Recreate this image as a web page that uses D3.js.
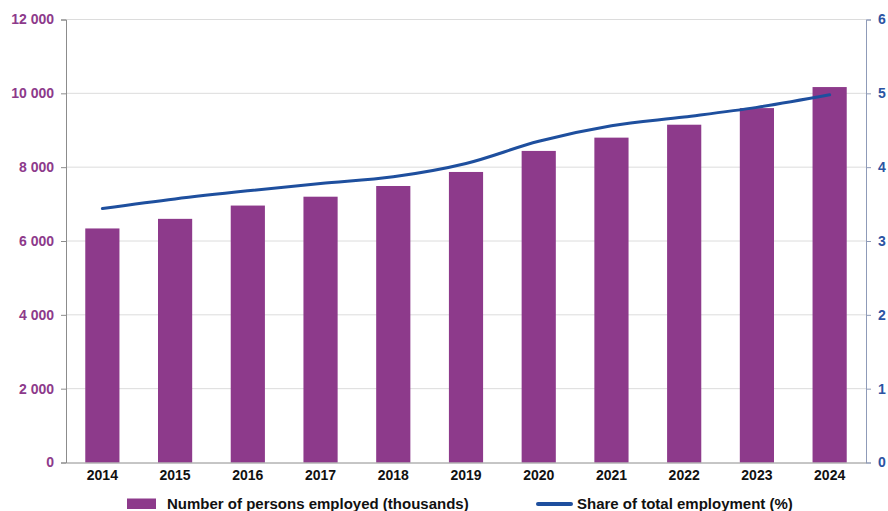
<!DOCTYPE html>
<html>
<head>
<meta charset="utf-8">
<script src="https://cdn.jsdelivr.net/npm/d3@7"></script>
<style>
  html, body { margin: 0; padding: 0; background: #ffffff; }
  svg { display: block; font-family: "Liberation Sans", Arial, sans-serif; }
</style>
</head>
<body>
<svg id="chart" width="888" height="511"></svg>
<script>
// Employment: persons employed (thousands) and share of total employment (%)
const years = ["2014", "2015", "2016", "2017", "2018", "2019", "2020", "2021", "2022", "2023", "2024"];
const employed = [6340, 6600, 6960, 7200, 7490, 7870, 8440, 8800, 9150, 9600, 10170];
const share = [3.44, 3.57, 3.68, 3.78, 3.87, 4.05, 4.35, 4.56, 4.68, 4.81, 4.98];
const leftTicks = [0, 2000, 4000, 6000, 8000, 10000, 12000];
const rightTicks = [0, 1, 2, 3, 4, 5, 6];
const legendLabels = ["Number of persons employed (thousands)", "Share of total employment (%)"];

const barColor = "#8d3a8b";
const lineColor = "#1e4f9e";
const rightLabelColor = "#2b54a3";

const margin = { left: 66, right: 22, top: 19.5, bottom: 48.5 };
const W = 888, H = 511;
const svg = d3.select("#chart");

const x = d3.scaleBand().domain(years).range([margin.left, W - margin.right]).paddingInner(0.53).paddingOuter(0.265);
const yL = d3.scaleLinear().domain([0, 12000]).range([H - margin.bottom, margin.top]);
const yR = d3.scaleLinear().domain([0, 6]).range([H - margin.bottom, margin.top]);

const fmt = v => d3.format(",")(v).replace(/,/g, " ");

// horizontal gridlines
svg.append("g")
  .selectAll("line")
  .data(leftTicks.filter(d => d > 0))
  .join("line")
  .attr("x1", margin.left).attr("x2", W - margin.right)
  .attr("y1", d => yL(d)).attr("y2", d => yL(d))
  .attr("stroke", "#dcdcdc").attr("stroke-width", 1);

// bars
svg.append("g")
  .selectAll("rect")
  .data(years)
  .join("rect")
  .attr("x", d => x(d))
  .attr("width", x.bandwidth())
  .attr("y", (d, i) => yL(employed[i]))
  .attr("height", (d, i) => yL(0) - yL(employed[i]))
  .attr("fill", barColor);

// left axis
const gL = svg.append("g")
  .attr("transform", `translate(${margin.left},0)`)
  .call(d3.axisLeft(yL).tickValues(leftTicks).tickFormat(fmt).tickSize(5).tickPadding(7));
gL.select(".domain").attr("stroke", "#8c8c8c");
gL.selectAll(".tick line").attr("stroke", "#8c8c8c");
gL.selectAll("text").attr("fill", barColor).attr("font-size", 14).attr("font-weight", "bold")
  .attr("font-family", "Liberation Sans, Arial, sans-serif");

// right axis
const gR = svg.append("g")
  .attr("transform", `translate(${W - margin.right},0)`)
  .call(d3.axisRight(yR).tickValues(rightTicks).tickFormat(d3.format("d")).tickSize(5).tickPadding(7));
gR.select(".domain").attr("stroke", "#8f9bb8");
gR.selectAll(".tick line").attr("stroke", "#8f9bb8");
gR.selectAll("text").attr("fill", rightLabelColor).attr("font-size", 14).attr("font-weight", "bold")
  .attr("font-family", "Liberation Sans, Arial, sans-serif");

// bottom axis
const gB = svg.append("g")
  .attr("transform", `translate(0,${H - margin.bottom})`)
  .call(d3.axisBottom(x).tickSize(0).tickPadding(8));
gB.select(".domain").attr("stroke", "#8c8c8c");
gB.selectAll("text").attr("fill", "#111").attr("font-size", 14).attr("font-weight", "bold")
  .attr("font-family", "Liberation Sans, Arial, sans-serif");

// share line
const line = d3.line()
  .x((d, i) => x(years[i]) + x.bandwidth() / 2)
  .y(d => yR(d))
  .curve(d3.curveMonotoneX);
svg.append("path")
  .datum(share)
  .attr("d", line)
  .attr("fill", "none")
  .attr("stroke", lineColor)
  .attr("stroke-width", 3)
  .attr("stroke-linecap", "round");

// legend
const lg = svg.append("g").attr("font-size", 15).attr("font-weight", "bold").attr("fill", "#111");
lg.append("rect").attr("x", 127).attr("y", 498.5).attr("width", 29).attr("height", 10.5).attr("fill", barColor);
lg.append("text").attr("x", 167).attr("y", 509).text(legendLabels[0]);
lg.append("line").attr("x1", 538).attr("x2", 571).attr("y1", 504).attr("y2", 504)
  .attr("stroke", lineColor).attr("stroke-width", 4).attr("stroke-linecap", "round");
lg.append("text").attr("x", 577).attr("y", 509).text(legendLabels[1]);
</script>
</body>
</html>
